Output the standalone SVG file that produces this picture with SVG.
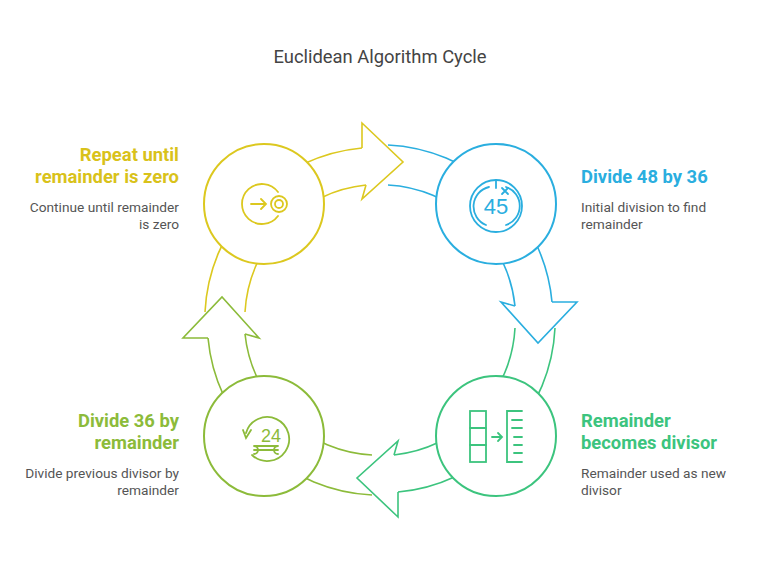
<svg xmlns="http://www.w3.org/2000/svg" width="759" height="564" viewBox="0 0 759 564">
<style>
text{font-family:"Roboto","Liberation Sans",sans-serif}
.t{font-size:18.4px;fill:#444}
.h{font-size:18.4px;font-weight:bold}
.d{font-size:13.7px;fill:#555}
.band{fill:none;stroke-width:1.6}
.head{fill:#fff;stroke-width:1.6;stroke-linejoin:miter}
.c{fill:#fff;stroke-width:2}
.i{fill:none;stroke-width:1.8;stroke-linecap:round}
</style>
<rect width="759" height="564" fill="#fff"/>
<text class="t" x="380" y="63" text-anchor="middle">Euclidean Algorithm Cycle</text>
<g id="connectors">
<g id="a1" stroke="#DCC81F">
<path class="band" d="M205.0,312.0 A173,173 0 0 1 362.0,148.0 M245.0,312.0 A135,135 0 0 1 366.0,185.0"/>
</g>
<g id="a2" stroke="#2AAEDF" transform="rotate(90 380 320)">
<path class="band" d="M205.0,312.0 A173,173 0 0 1 362.0,148.0 M245.0,312.0 A135,135 0 0 1 366.0,185.0"/>
</g>
<g id="a3" stroke="#3CC47E" transform="rotate(180 380 320)">
<path class="band" d="M205.0,312.0 A173,173 0 0 1 362.0,148.0 M245.0,312.0 A135,135 0 0 1 366.0,185.0"/>
</g>
<g id="a4" stroke="#8CBB3A" transform="rotate(270 380 320)">
<path class="band" d="M205.0,312.0 A173,173 0 0 1 362.0,148.0 M245.0,312.0 A135,135 0 0 1 366.0,185.0"/>
</g>
<path class="head" stroke="#DCC81F" d="M362,148 L362,123 L403,162 L362,199 L366,185"/>
<path class="head" stroke="#2AAEDF" transform="rotate(90 380 320)" d="M362,148 L362,123 L403,162 L362,199 L366,185"/>
<path class="head" stroke="#3CC47E" transform="rotate(180 380 320)" d="M362,148 L362,123 L403,162 L362,199 L366,185"/>
<path class="head" stroke="#8CBB3A" transform="rotate(270 380 320)" d="M362,148 L362,123 L403,162 L362,199 L366,185"/>
</g>
<g id="n1">
<circle class="c" cx="264" cy="204" r="60" stroke="#DCC81F"/>
<g class="i" stroke="#DCC81F">
<path d="M278,192 A20,20 0 1 0 278,216"/>
<path d="M251,204 H266 M261,199 L266,204 L261,209"/>
<circle cx="279" cy="204" r="8"/><circle cx="279" cy="204" r="4"/>
</g>
<text class="h" x="179" y="161" text-anchor="end" fill="#D9C21A">Repeat until</text>
<text class="h" x="179" y="183" text-anchor="end" fill="#D9C21A">remainder is zero</text>
<text class="d" x="179" y="212" text-anchor="end">Continue until remainder</text>
<text class="d" x="179" y="229" text-anchor="end">is zero</text>
</g>
<g id="n2">
<circle class="c" cx="496" cy="204" r="60" stroke="#2AAEDF"/>
<g class="i" stroke="#2AAEDF">
<circle cx="496" cy="206" r="26"/>
<path d="M486,225 A20,20 0 0 1 489,187 M506,187 A20,20 0 0 1 506,225"/>
<path d="M496,180 V188 M502,188 L508,194 M508,188 L502,194"/>
</g>
<text x="496" y="214" text-anchor="middle" font-size="22" fill="#2AAEDF" style="font-family:'Liberation Sans',sans-serif">45</text>
<text class="h" x="581" y="183" fill="#2AAEDF">Divide 48 by 36</text>
<text class="d" x="581" y="212">Initial division to find</text>
<text class="d" x="581" y="229">remainder</text>
</g>
<g id="n3">
<circle class="c" cx="496" cy="436" r="60" stroke="#3CC47E"/>
<g class="i" stroke="#3CC47E" stroke-linecap="butt">
<rect x="470" y="411" width="16" height="51"/>
<path d="M470,428 H486 M470,445 H486"/>
<path d="M492,437 H502 M498,433 L502,437 L498,441"/>
<path d="M522,411 H507 V462 H522 M512,420 H522 M512,428 H522 M514,437 H522 M514,445 H522 M514,453 H522"/>
</g>
<text class="h" x="581" y="427" fill="#3CC47E">Remainder</text>
<text class="h" x="581" y="449" fill="#3CC47E">becomes divisor</text>
<text class="d" x="581" y="478">Remainder used as new</text>
<text class="d" x="581" y="495">divisor</text>
</g>
<g id="n4">
<circle class="c" cx="264" cy="436" r="60" stroke="#8CBB3A"/>
<g class="i" stroke="#8CBB3A">
<path d="M246,433 A22,22 0 1 1 252,455 M243,430 L246,438 L251,430"/>
<path d="M254,446 H278 M254,446 A4,4 0 1 1 254,454 M278,446 A4,4 0 1 0 278,454 M254,450 H278"/>
</g>
<text x="271" y="442" text-anchor="middle" font-size="18" fill="#8CBB3A" style="font-family:'Liberation Sans',sans-serif">24</text>
<text class="h" x="179" y="427" text-anchor="end" fill="#8CBB3A">Divide 36 by</text>
<text class="h" x="179" y="449" text-anchor="end" fill="#8CBB3A">remainder</text>
<text class="d" x="179" y="478" text-anchor="end">Divide previous divisor by</text>
<text class="d" x="179" y="495" text-anchor="end">remainder</text>
</g>
</svg>
